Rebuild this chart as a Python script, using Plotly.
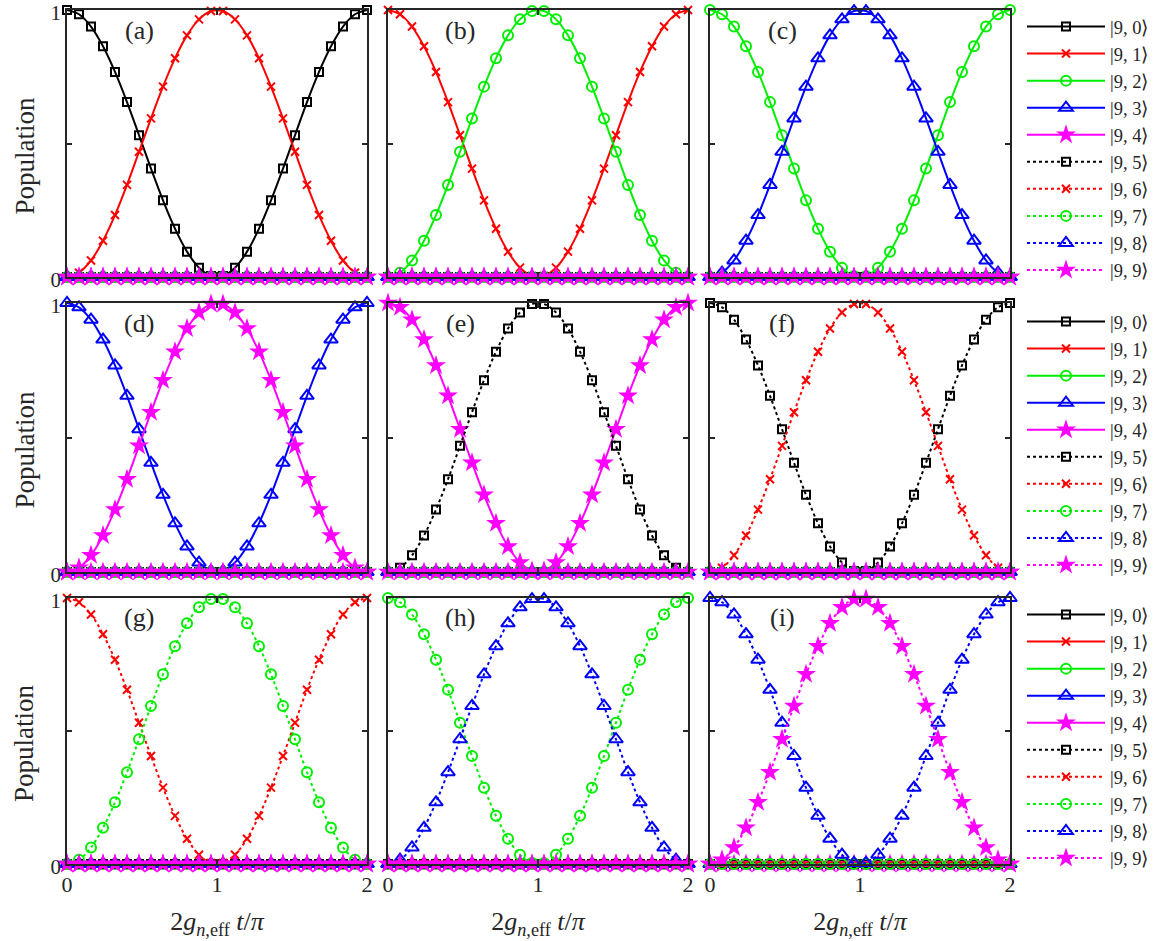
import plotly.graph_objects as go
from plotly.subplots import make_subplots

# ---------------- data ----------------
time = [0.00, 0.08, 0.16, 0.24, 0.32, 0.40, 0.48, 0.56, 0.64, 0.72, 0.80, 0.88, 0.96,
        1.04, 1.12, 1.20, 1.28, 1.36, 1.44, 1.52, 1.60, 1.68, 1.76, 1.84, 1.92, 2.00]

pop_fall = [1.000, 0.984, 0.938, 0.864, 0.768, 0.655, 0.531, 0.406, 0.287, 0.181, 0.095, 0.035, 0.004,
            0.004, 0.035, 0.095, 0.181, 0.287, 0.406, 0.531, 0.655, 0.768, 0.864, 0.938, 0.984, 1.000]

pop_rise = [0.000, 0.016, 0.062, 0.136, 0.232, 0.345, 0.469, 0.594, 0.713, 0.819, 0.905, 0.965, 0.996,
            0.996, 0.965, 0.905, 0.819, 0.713, 0.594, 0.469, 0.345, 0.232, 0.136, 0.062, 0.016, 0.000]

pop_zero = [0.0, 0.0, 0.0, 0.0, 0.0, 0.0, 0.0, 0.0, 0.0, 0.0, 0.0, 0.0, 0.0,
            0.0, 0.0, 0.0, 0.0, 0.0, 0.0, 0.0, 0.0, 0.0, 0.0, 0.0, 0.0, 0.0]

state_labels = ["|9, 0⟩", "|9, 1⟩", "|9, 2⟩", "|9, 3⟩", "|9, 4⟩",
                "|9, 5⟩", "|9, 6⟩", "|9, 7⟩", "|9, 8⟩", "|9, 9⟩"]

panel_labels = ["(a)", "(b)", "(c)", "(d)", "(e)", "(f)", "(g)", "(h)", "(i)"]
panel_fall_state = [0, 1, 2, 3, 4, 5, 6, 7, 8]   # state whose population goes 1 -> 0 -> 1
panel_rise_state = [1, 2, 3, 4, 5, 6, 7, 8, 9]   # state whose population goes 0 -> 1 -> 0

x_ticks = [0, 1, 2]
y_ticks = [0, 1]
y_minor_ticks = [0.5]

# ---------------- styles ----------------
colors = ["#000000", "#ff0000", "#00ee00", "#0000ff", "#ff00ff"] * 2
symbols = ["square-open", "x-thin-open", "circle-open", "triangle-up-open", "star"] * 2
msizes = [8, 8, 10, 12, 15] * 2
dashes = ["solid"] * 5 + ["dot"] * 5

W, H = 1154, 941
col_px = [(67, 367), (388, 688), (710, 1010)]
row_px = [(10, 277), (303, 572), (598, 864)]
FONT = "Liberation Serif"
TXT = "#262626"

fig = make_subplots(rows=3, cols=3)

for p in range(9):
    r, c = divmod(p, 3)
    for s in range(10):
        if s == panel_fall_state[p]:
            yv = pop_fall
        elif s == panel_rise_state[p]:
            yv = pop_rise
        else:
            yv = pop_zero
        fig.add_trace(
            go.Scatter(
                x=time, y=yv, mode="lines+markers", name=state_labels[s],
                line=dict(color=colors[s], width=2, dash=dashes[s], shape="spline"),
                marker=dict(symbol=symbols[s], size=msizes[s], color=colors[s],
                            line=dict(color=colors[s], width=2 if s % 5 != 4 else 0)),
                cliponaxis=False,
                showlegend=(c == 0),
                legend="legend" if r == 0 else f"legend{r + 1}",
            ),
            row=r + 1, col=c + 1,
        )

for p in range(9):
    r, c = divmod(p, 3)
    xd = [col_px[c][0] / W, col_px[c][1] / W]
    yd = [1 - row_px[r][1] / H, 1 - row_px[r][0] / H]
    xkw = dict(
        domain=xd, range=[0, 2], tickvals=x_ticks, ticks="inside", ticklen=5,
        tickwidth=1.5, tickcolor=TXT, showline=True, linecolor=TXT, linewidth=1.5,
        mirror="ticks", showgrid=False, zeroline=False, automargin=False,
        showticklabels=(r == 2), ticklabeloverflow="allow",
        tickfont=dict(family=FONT, size=22, color=TXT),
    )
    if r == 2:
        xkw["title"] = dict(text="2<i>g</i><sub><i>n</i>,eff</sub> <i>t</i>/<i>π</i>",
                            font=dict(family=FONT, size=26, color=TXT), standoff=16)
    fig.update_xaxes(row=r + 1, col=c + 1, **xkw)
    fig.update_yaxes(
        domain=yd, range=[0, 1], tickvals=y_ticks, ticks="inside",
        ticklen=5, tickwidth=1.5, tickcolor=TXT, showline=True, linecolor=TXT, linewidth=1.5,
        mirror="ticks", showgrid=False, zeroline=False, automargin=False,
        minor=dict(tickvals=y_minor_ticks, ticks="inside", ticklen=5, tickwidth=1.5,
                   tickcolor=TXT, showgrid=False),
        showticklabels=(c == 0), ticklabeloverflow="allow", ticklabelshift=3,
        tickfont=dict(family=FONT, size=21, color=TXT),
        row=r + 1, col=c + 1,
    )
    xref = "x" if p == 0 else f"x{p + 1}"
    yref = "y" if p == 0 else f"y{p + 1}"
    fig.add_annotation(x=0.48, y=0.925, xref=xref, yref=yref, text=panel_labels[p],
                       showarrow=False, font=dict(family=FONT, size=26, color=TXT))

# row y-titles
for r in range(3):
    yc = (row_px[r][0] + row_px[r][1]) / 2 + 12
    fig.add_annotation(x=24 / W, y=1 - yc / H, xref="paper", yref="paper",
                       text="Population", textangle=-90, showarrow=False,
                       xanchor="center", yanchor="middle",
                       font=dict(family=FONT, size=27, color=TXT))

legend_common = dict(
    font=dict(family=FONT, size=18.5, color=TXT), bgcolor="rgba(0,0,0,0)",
    xanchor="left", yanchor="top", tracegroupgap=0, itemwidth=78,
)
fig.update_layout(
    width=W, height=H, margin=dict(l=0, r=0, t=0, b=0, autoexpand=False),
    font=dict(family=FONT, color=TXT),
    plot_bgcolor="white", paper_bgcolor="white",
    legend=dict(x=1022 / W, y=1 - 8 / H, **legend_common),
    legend2=dict(x=1022 / W, y=1 - 303 / H, **legend_common),
    legend3=dict(x=1022 / W, y=1 - 596 / H, **legend_common),
)

fig.write_html("out.html", config={"displayModeBar": False},
               post_script="document.body.style.margin='0';")
